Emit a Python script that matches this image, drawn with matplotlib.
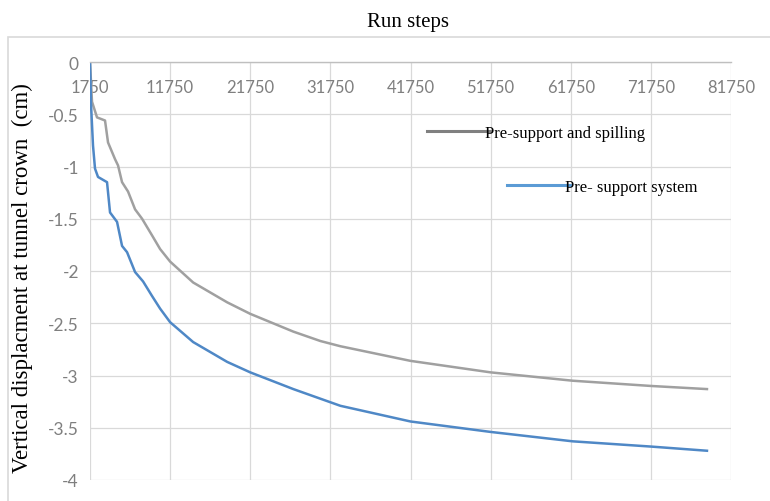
import matplotlib
matplotlib.use('Agg')
import matplotlib.pyplot as plt
from matplotlib.patches import Rectangle
from matplotlib.lines import Line2D

# run steps / vertical displacement (cm)
spill_x = [1750, 2000, 2625, 3625, 4000, 4875, 5250, 5750, 6500, 7375, 8250, 9500,
           10500, 11750, 14625, 18875, 21750, 27125, 30500, 33000, 41750, 51750,
           62000, 71750, 78750]
spill_y = [0, -0.38, -0.53, -0.56, -0.77, -0.93, -0.99, -1.15, -1.24, -1.41, -1.50, -1.66,
           -1.79, -1.91, -2.11, -2.30, -2.41, -2.58, -2.67, -2.72, -2.86, -2.97,
           -3.05, -3.10, -3.13]

pre_x = [1750, 1875, 2125, 2375, 2750, 3875, 4250, 5125, 5750, 6375, 7375, 8375, 9500,
         10500, 11750, 14625, 18875, 21750, 27125, 33000, 41750, 51750, 62000,
         71750, 78750]
pre_y = [0, -0.4, -0.8, -1.02, -1.10, -1.15, -1.44, -1.53, -1.76, -1.82, -2.01, -2.10, -2.24,
         -2.36, -2.49, -2.68, -2.87, -2.97, -3.13, -3.29, -3.44, -3.54, -3.63,
         -3.68, -3.72]

x_ticks = list(range(1750, 81751, 10000))
y_ticks = [0, -0.5, -1, -1.5, -2, -2.5, -3, -3.5, -4]

serif = 'Liberation Serif'
tick_col = '#7f7f7f'
grid_col = '#d9d9d9'

fig = plt.figure(figsize=(7.7, 5.02), dpi=100)
ax = fig.add_axes([90/770, 1-481/502, (731-90)/770, (481-63)/502])

# outer chart frame
fig.patches.append(Rectangle((8/770, -0.05), 1.0, 1-38/502+0.05, transform=fig.transFigure,
                             fill=False, edgecolor=grid_col, linewidth=1.2))

ax.plot(spill_x, spill_y, color='#a0a0a0', linewidth=1.8)
ax.plot(pre_x, pre_y, color='#4f88c6', linewidth=1.8)

ax.set_xlim(1750, 81750)
ax.set_ylim(-4, 0)
ax.set_xticks(x_ticks)
ax.set_yticks(y_ticks)
ax.set_yticklabels(['%g' % v for v in y_ticks])
ax.xaxis.tick_top()
ax.tick_params(axis='x', length=0, pad=-24, labelsize=12, labelcolor=tick_col)
ax.tick_params(axis='y', length=0, pad=8, labelsize=12.5, labelcolor=tick_col)
for lab in ax.get_xticklabels() + ax.get_yticklabels():
    lab.set_family('Lato')

ax.grid(True, color=grid_col, linewidth=0.9)
ax.set_axisbelow(True)
for s in ['left', 'right', 'bottom']:
    ax.spines[s].set_visible(False)
ax.spines['top'].set_color('#bfbfbf')
ax.spines['top'].set_linewidth(1.0)

fig.text(22/770, 1-278/502, 'Vertical displacment at tunnel crown  (cm)', rotation=90,
         ha='center', va='center', fontsize=16.5, family=serif)

fig.text(408/770, 1-22/502, 'Run steps', ha='center', va='center',
         fontsize=15, family=serif)

# two separate legend entries placed like the original
h1 = Line2D([], [], color='#808080', linewidth=2.2)
h2 = Line2D([], [], color='#5b9bd5', linewidth=2.2)
leg1 = ax.legend([h1], ['Pre-support and spilling'], loc='center left',
                 bbox_to_anchor=((412-90)/641, 1-(134-63)/418), frameon=False,
                 handlelength=3.8, handletextpad=-0.3, prop={'family': serif, 'size': 12})
ax.add_artist(leg1)
ax.legend([h2], ['Pre- support system'], loc='center left',
          bbox_to_anchor=((492-90)/641, 1-(188-63)/418), frameon=False,
          handlelength=3.8, handletextpad=-0.3, prop={'family': serif, 'size': 12})

fig.savefig('out.png', dpi=100)
